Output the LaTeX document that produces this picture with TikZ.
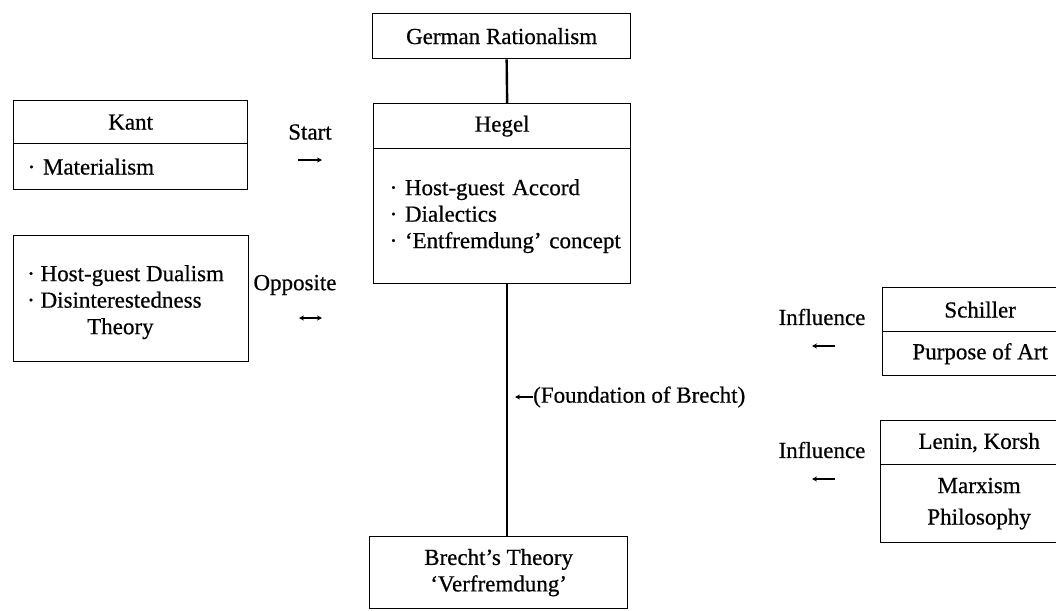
\documentclass[tikz,border=0pt]{standalone}
\usepackage{fontspec}
\setmainfont{Liberation Serif}[FakeBold=0.6]
\usetikzlibrary{arrows.meta}
\begin{document}
\begin{tikzpicture}[x=1pt,y=-1pt,
  txt/.style={font=\fontsize{23}{26.5}\selectfont, inner sep=0pt},
  box/.style={txt, draw, line width=1.3pt, rectangle, anchor=north west},
  lbox/.style={box, align=left, inner xsep=14pt, text width=#1},
  link/.style={line width=2.4pt},
  smallarr/.style={line width=1.4pt, -{Stealth[length=5pt,width=5pt]}},
  dblarr/.style={line width=1.4pt, {Stealth[length=5pt,width=5pt]}-{Stealth[length=5pt,width=5pt]}}]
\clip (0,0) rectangle (1056,610);
\useasboundingbox (0,0) rectangle (1056,610);

% centre column
\node[box, minimum width=258pt, minimum height=45pt] (ger) at (372,13) {German Rationalism};
\node[box, minimum width=257pt, minimum height=45pt] (hegel) at (373,103) {Hegel};
\node[lbox=225pt, minimum width=257pt, minimum height=135pt, inner xsep=16pt] (hegelb) at (373,148)
  {\mbox{· Host-guest Accord}\\\mbox{· Dialectics}\\\mbox{· ‘Entfremdung’ concept}};
\node[box, minimum width=258pt, minimum height=72pt, align=center] (brecht) at (369,536)
  {Brecht’s Theory\\‘Verfremdung’};

% left column
\node[box, minimum width=234pt, minimum height=43pt] (kant) at (13,100) {Kant};
\node[lbox=206pt, minimum width=234pt, minimum height=46pt] (kantb) at (13,143) {· Materialism};
\node[box, minimum width=235pt, minimum height=126pt] (dual) at (13,235) {};
\node[txt, align=left, anchor=north west] (dualtxt) at (27,265)
  {\mbox{· Host-guest Dualism}\\\mbox{· Disinterestedness}\\\hspace*{60pt}Theory};

% right column
\node[box, minimum width=195pt, minimum height=44pt] (schiller) at (882,287) {Schiller};
\node[box, minimum width=195pt, minimum height=44pt] (purpose) at (882,331) {Purpose of Art};
\node[box, minimum width=197pt, minimum height=44pt] (lenin) at (880,420) {Lenin, Korsh};
\node[box, minimum width=197pt, minimum height=78pt, align=center] (marx) at (880,464) {Marxism\\[5pt]Philosophy};

% connectors
\draw[link] ([xshift=5pt]ger.south) -- ([xshift=5pt]hegel.north);
\draw[link] ([xshift=5pt]hegelb.south) -- ([xshift=5pt]hegelb.south |- brecht.north);

% labels and small arrows
\node[txt] (start) at (310,132) {Start};
\coordinate (s1) at (298,160); \coordinate (s2) at (322,160);
\draw[smallarr] (s1) -- (s2);

\node[txt] (opp) at (295,285) {Opposite};
\coordinate (o1) at (299,318); \coordinate (o2) at (322,318);
\draw[dblarr] (o1) -- (o2);

\node[txt] (inf1) at (822,317) {Influence};
\coordinate (i1a) at (835,346); \coordinate (i1b) at (812,346);
\draw[smallarr] (i1a) -- (i1b);

\node[txt] (inf2) at (822,450) {Influence};
\coordinate (i2a) at (835,479); \coordinate (i2b) at (812,479);
\draw[smallarr] (i2a) -- (i2b);

\node[txt, anchor=west] (fdn) at (533,397) {(Foundation of Brecht)};
\coordinate (f1) at (515,397);
\draw[smallarr] (fdn.west) -- (f1);
\end{tikzpicture}
\end{document}
